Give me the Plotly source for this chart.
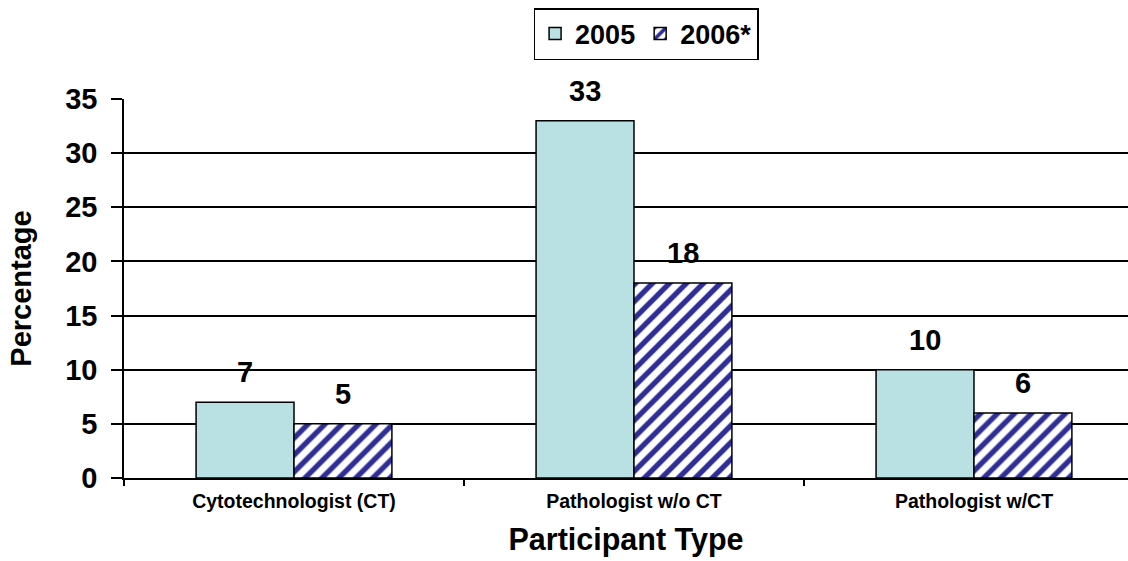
import plotly.graph_objects as go

categories = ["Cytotechnologist (CT)", "Pathologist w/o CT", "Pathologist w/CT"]
series_names = ["2005", "2006*"]
values_2005 = [7, 33, 10]
values_2006 = [5, 18, 6]
y_ticks = [0, 5, 10, 15, 20, 25, 30, 35]

FONT = "Liberation Sans, Arial"
BAR_HALF = 49  # half of one bar width in px (label centring)

fig = go.Figure()
fig.add_trace(go.Bar(
    name=series_names[0], x=categories, y=values_2005,
    marker=dict(color="#B9E0E3", line=dict(color="black", width=1.5)),
))
fig.add_trace(go.Bar(
    name=series_names[1], x=categories, y=values_2006,
    marker=dict(color="white", line=dict(color="black", width=1.5),
                pattern=dict(shape="/", fgcolor="#2E2E96", bgcolor="white",
                             fgopacity=1, size=12, solidity=0.45, fillmode="replace")),
))

annotations = []
for cat, v in zip(categories, values_2005):
    annotations.append(dict(x=cat, y=v, xref="x", yref="y", text=str(v), showarrow=False,
                            xshift=-BAR_HALF, yshift=12, yanchor="bottom",
                            font=dict(family=FONT, size=29, color="black", weight="bold")))
for cat, v in zip(categories, values_2006):
    annotations.append(dict(x=cat, y=v, xref="x", yref="y", text=str(v), showarrow=False,
                            xshift=BAR_HALF, yshift=12, yanchor="bottom",
                            font=dict(family=FONT, size=29, color="black", weight="bold")))

fig.update_layout(
    width=1128, height=561,
    margin=dict(l=124, r=0, t=99, b=83, autoexpand=False),
    paper_bgcolor="white", plot_bgcolor="white",
    barmode="group", bargap=0.424, bargroupgap=0,
    font=dict(family=FONT, color="black"),
    showlegend=True,
    legend=dict(orientation="h", x=0.52, xanchor="center", y=1 - 8 / 561, yanchor="top",
                yref="container", font=dict(size=27, weight="bold"),
                bordercolor="black", borderwidth=1.5, bgcolor="white",
                itemwidth=30, traceorder="normal", tracegroupgap=0),
    annotations=annotations,
)
fig.update_xaxes(
    range=[-0.5, 2.453], showline=True, linecolor="black", linewidth=1.5,
    ticks="outside", tickson="boundaries", ticklen=6, tickcolor="black", tickwidth=1.5,
    tickfont=dict(size=19.5, weight="bold"), ticklabelstandoff=5, automargin=False,
    title=dict(text="Participant Type", font=dict(size=30.5, weight="bold"), standoff=17),
    showgrid=False,
)
fig.update_yaxes(
    range=[0, 35], tickvals=y_ticks, showline=True, linecolor="black", linewidth=1.5,
    ticks="outside", ticklen=11, tickcolor="black", tickwidth=1.5,
    tickfont=dict(size=29, weight="bold"), ticklabelstandoff=8, automargin=False,
    showgrid=True, gridcolor="black", gridwidth=1.5, zeroline=False,
    title=dict(text="Percentage", font=dict(size=29, weight="bold"), standoff=25),
)

fig.write_html("out.html", config={"displayModeBar": False},
               post_script="document.body.style.margin='0';document.body.style.overflow='hidden';")
